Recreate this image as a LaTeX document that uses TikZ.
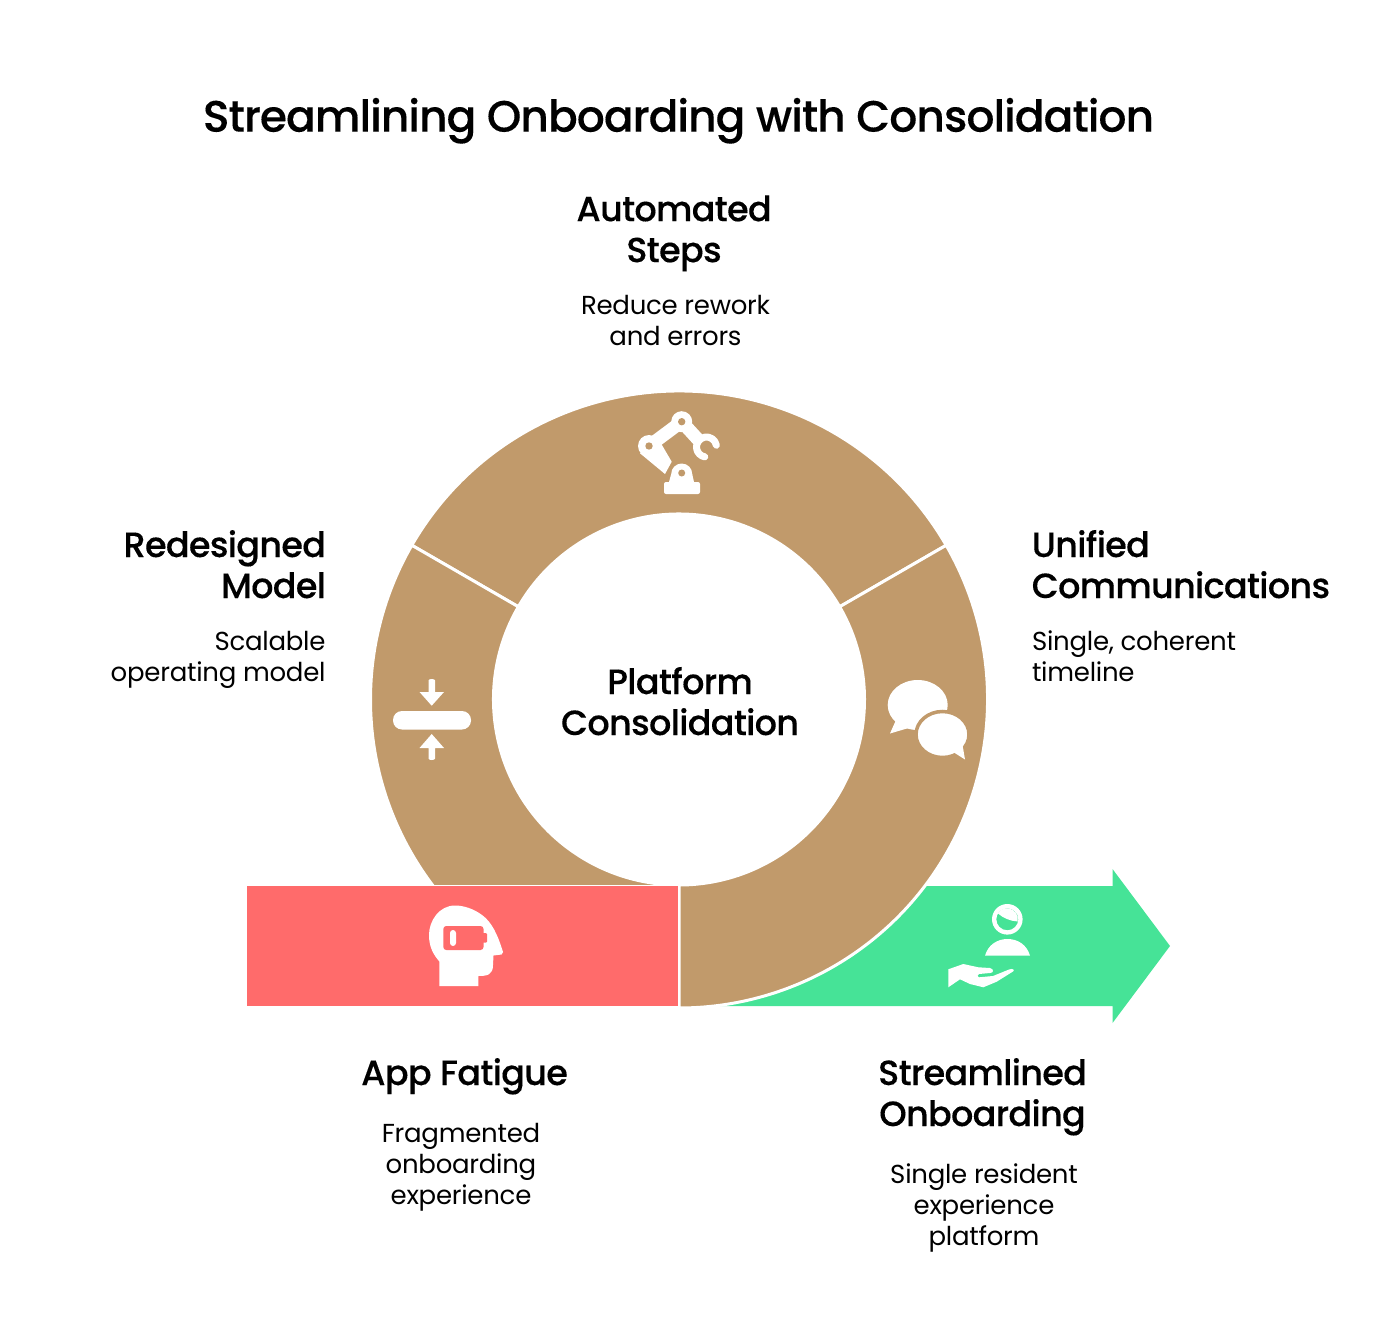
\documentclass[tikz,border=0pt]{standalone}
\usepackage{fontspec}
\setmainfont{Poppins}[LetterSpace=-1.0]
\newfontfamily\medfont{Poppins Medium}[LetterSpace=-2.0,FakeBold=0.2]
\newfontfamily\titlefont{Poppins Medium}[LetterSpace=-2.25,FakeBold=0.2]
\definecolor{ringbrown}{HTML}{C19A6B}
\definecolor{fatiguered}{HTML}{FF6B6B}
\definecolor{onboardgreen}{HTML}{46E397}
\tikzset{
  ringseg/.style={fill=ringbrown,draw=white,line width=3pt,line join=miter},
  iconfill/.style={fill=white,draw=none},
  iconline/.style={draw=white,line cap=butt,line join=round},
  titletext/.style={font=\titlefont\fontsize{44}{52}\selectfont,anchor=north,align=center},
  headtext/.style={font=\medfont\fontsize{35}{41}\selectfont,anchor=north,align=center},
  desctext/.style={font=\fontsize{26}{31}\selectfont,anchor=north,align=center}
}
\begin{document}
\begin{tikzpicture}[y=1pt, x=1pt, yscale=-1, inner sep=0pt, outer sep=0pt]
\useasboundingbox (0,0) rectangle (1378,1337);
% arrow behind the ring
\path[fill=onboardgreen] (679,886) -- (1112.5,886) -- (1112.5,869) -- (1170,946) -- (1112.5,1023) -- (1112.5,1006) -- (679,1006) -- cycle;
% ring segments
\begin{scope}[shift={(679,699.5)}]
  \path[ringseg] (-150:308.5) arc[start angle=-150, end angle=-30, radius=308.5] -- (-30:185.5) arc[start angle=-30, end angle=-150, radius=185.5] -- cycle;
  \path[ringseg] (-30:308.5) arc[start angle=-30, end angle=90, radius=308.5] -- (90:185.5) arc[start angle=90, end angle=-30, radius=185.5] -- cycle;
  \begin{scope}
    \clip (-400,-400) rectangle (-1,184.5);
    \path[ringseg] (90:308.5) arc[start angle=90, end angle=210, radius=308.5] -- (210:185.5) arc[start angle=210, end angle=90, radius=185.5] -- cycle;
  \end{scope}
\end{scope}
\path[fill=fatiguered] (247,886) rectangle (677.5,1006);
% robot arm
\path[iconline,line width=13pt] (649,446) -- (681.7,421.7) -- (700,441.7);
\path[iconfill] (649,446) circle (11);
\path[iconfill] (681.7,421.7) circle (10.5);
\path[iconfill] (640,453.3) -- (665,474) -- (671.7,461.7) -- (660,441.7) -- cycle;
\path[iconline,line width=7pt,line cap=round] (706.5,447) ++(-10:10) arc[start angle=-10, end angle=-260, radius=10];
\path[fill=ringbrown] (649,446) circle (3.7);
\path[fill=ringbrown] (681.7,421.7) circle (3.7);
\path[iconfill] (681.7,474) circle (10.5);
\path[iconfill] (671.2,474) -- (692.2,474) -- (694,482) -- (669,482) -- cycle;
\path[iconfill,rounded corners=2pt] (664,482) rectangle (700,494);
\path[fill=ringbrown] (681.7,473) circle (3.5);
% compress icon
\path[iconfill,rounded corners=9pt] (393,711) rectangle (471,729.5);
\path[iconfill,line join=round] (419.5,692) -- (428.5,692) -- (428.5,680.5) .. controls (428.5,678.5) and (435,678.5) .. (435,680.5) -- (435,692) -- (444,692) -- (431.7,705.7) -- cycle;
\path[iconfill,line join=round] (419.5,748) -- (428.5,748) -- (428.5,758.5) .. controls (428.5,760.5) and (435,760.5) .. (435,758.5) -- (435,748) -- (444,748) -- (431.7,734) -- cycle;
% chat bubbles
\path[iconfill] (917.7,705) ellipse (30 and 25);
\path[iconfill] (896,720) -- (890,733.5) -- (912,727) -- cycle;
\path[fill=white,draw=ringbrown,line width=3.5pt] (942.5,734.5) ellipse (26.5 and 23);
\path[iconfill] (950,750) -- (965,759.5) -- (962,742) -- cycle;
% head with battery
\path[iconfill] (439.3,986) -- (478.3,986) -- (478.3,976) .. controls (487,976) and (493,975) .. (493,965) -- (493.5,955.5) -- (501.5,954.5) .. controls (504,953.5) and (503,951) .. (502,949) .. controls (498,936) and (492,922) .. (482,915) .. controls (474,909) and (464,905.5) .. (455,905.5) .. controls (439,905.5) and (429,921) .. (429,935) .. controls (429,948) and (434,955) .. (439.3,961.5) -- cycle;
\path[fill=fatiguered,rounded corners=3pt] (443.3,926) rectangle (483.5,950);
\path[fill=fatiguered,rounded corners=1pt] (482,933) rectangle (487,942.7);
\path[iconfill,rounded corners=3pt] (450,930) rectangle (456,946);
% person and hand
\path[iconfill,even odd rule] (1007.3,919.3) circle (15.3) (1007.3,919.3) circle (11);
\path[iconfill] (998,913.5) .. controls (1003,918) and (1010,921) .. (1017.5,921.5) .. controls (1019,915) and (1015,909) .. (1007.3,908.3) .. controls (1003,908.3) and (1000,910) .. (998,913.5) -- cycle;
\path[iconfill] (985,955.7) .. controls (988,945) and (997,939) .. (1007.5,939) .. controls (1018,939) and (1027,945) .. (1030,955.7) -- cycle;
\path[iconfill] (948.3,969.3) -- (963.3,964) -- (978.3,967.3) -- (990,968) .. controls (994,969) and (994,973) .. (990,973) -- (979,974) .. controls (977,975) and (977,977) .. (979,977.3) -- (993,976) -- (1009,969.5) .. controls (1013,968) and (1015,970) .. (1013,971.5) -- (996.7,981.7) -- (983.3,987.3) -- (970,984) -- (960,979.3) -- (948.3,987.3) -- cycle;
% labels
\node[titletext] (titlelabel) at (678.5,95.3) {\strut Streamlining Onboarding with Consolidation};
\node[headtext] (automatedhead) at (674,192.5) {\strut Automated\\Steps};
\node[desctext] (automateddesc) at (675.5,292.5) {\strut Reduce rework\\and errors};
\node[headtext,anchor=north east,align=right] (redesignedhead) at (326,528.3) {\strut Redesigned\\Model};
\node[desctext,anchor=north east,align=right] (redesigneddesc) at (325.5,628.3) {\strut Scalable\\operating model};
\node[headtext,anchor=north west,align=left] (unifiedhead) at (1031.7,528.3) {\strut Unified\\Communications};
\node[desctext,anchor=north west,align=left] (unifieddesc) at (1032,628.3) {\strut Single, coherent\\timeline};
\node[headtext] (platformhead) at (680,665.3) {\strut Platform\\Consolidation};
\node[headtext] (fatiguehead) at (464.5,1056.3) {\strut App Fatigue};
\node[desctext] (fatiguedesc) at (461,1120.3) {\strut Fragmented\\onboarding\\experience};
\node[headtext] (onboardhead) at (982.5,1056.3) {\strut Streamlined\\Onboarding};
\node[desctext] (onboarddesc) at (984,1161.3) {\strut Single resident\\experience\\platform};
\end{tikzpicture}
\end{document}
